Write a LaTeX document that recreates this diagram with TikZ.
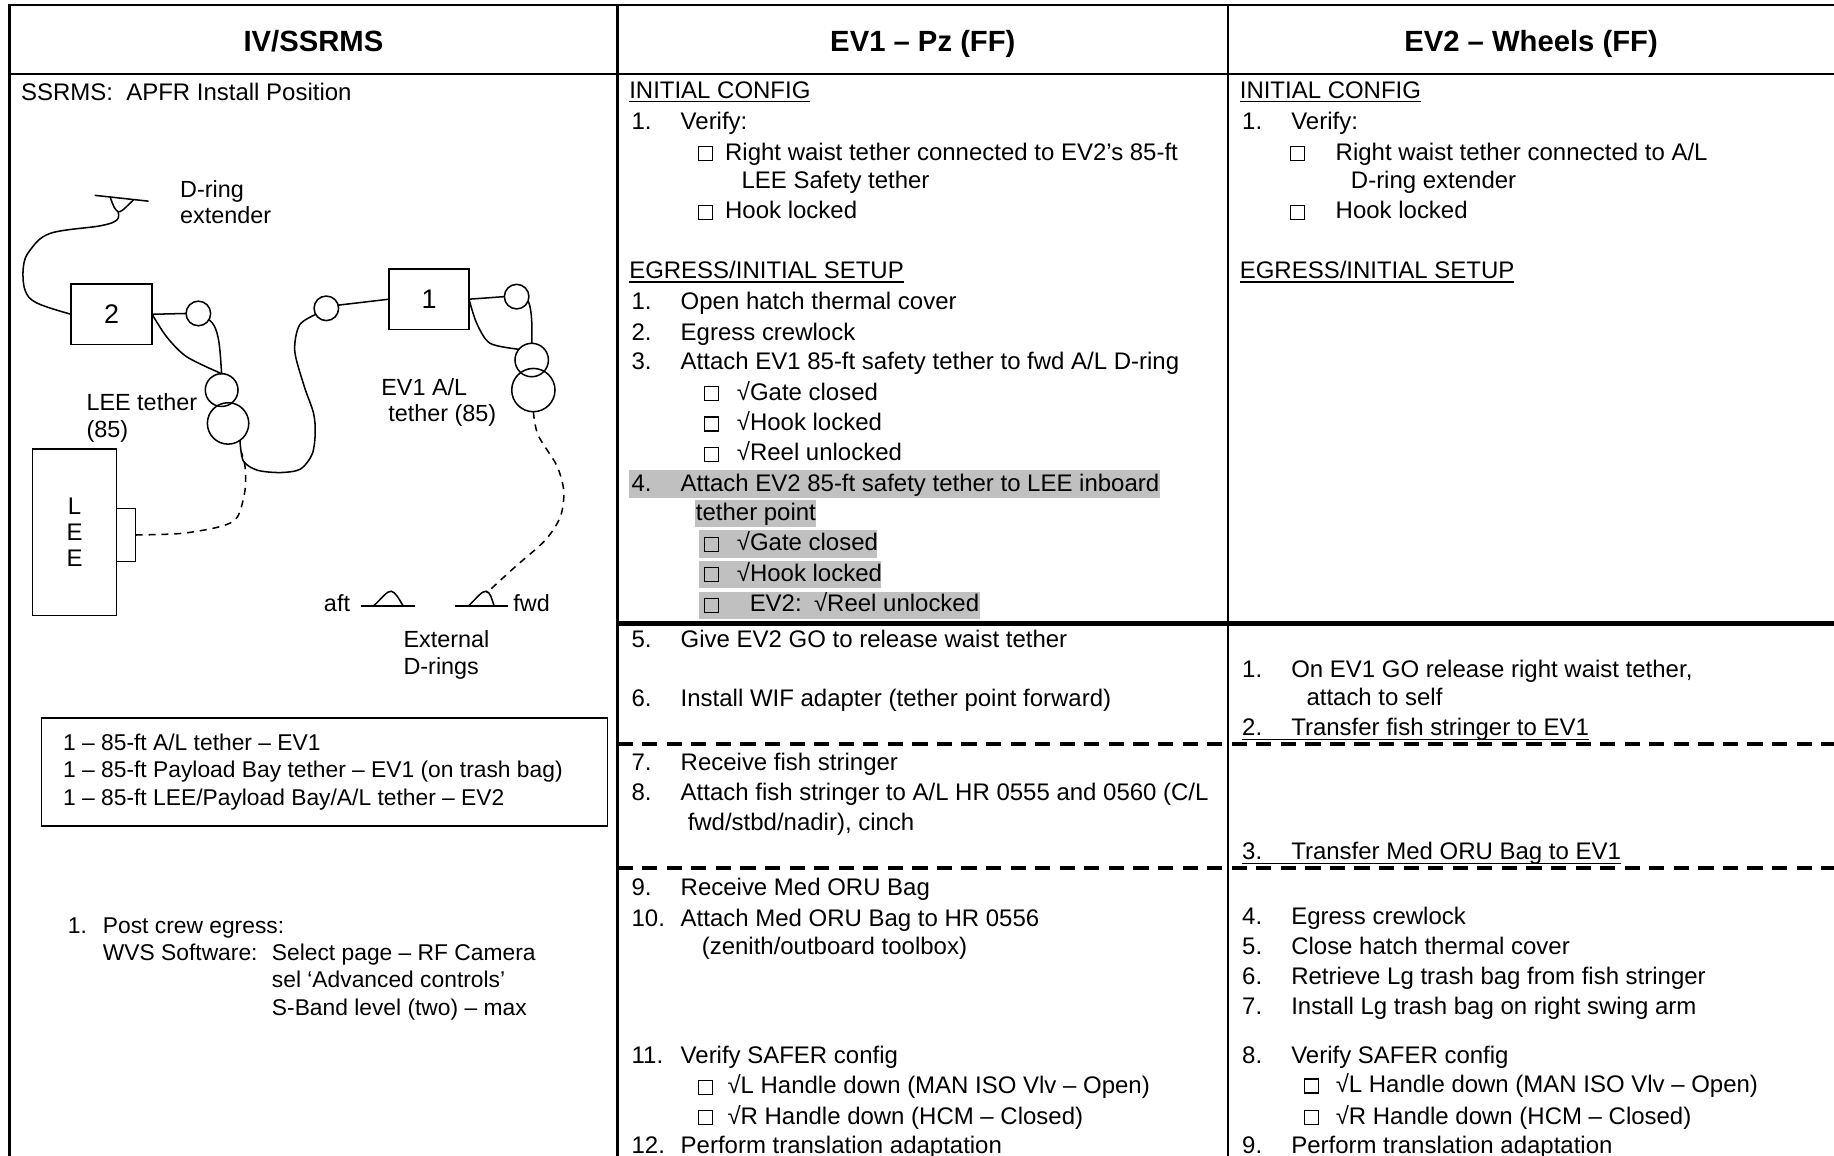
\documentclass[tikz,border=0pt]{standalone}
\usepackage{fontspec}
\setmainfont{Liberation Sans}
\usetikzlibrary{calc}
\definecolor{hl}{RGB}{192,192,192}
\newcommand{\cbx}{{\setlength{\fboxsep}{0pt}\setlength{\fboxrule}{1pt}\framebox{\rule{0pt}{11pt}\hspace{11pt}}}}
\newcommand{\nm}[1]{\makebox[42pt][l]{#1}}
\begin{document}
\begin{tikzpicture}[x=1pt,y=-1pt,
  every node/.style={inner sep=0pt,outer sep=0pt},
  tx/.style={anchor=base west,font=\fontsize{20.5pt}{25.8pt}\selectfont},
  ts/.style={anchor=base west,font=\fontsize{19.5pt}{23.5pt}\selectfont},
  dl/.style={anchor=base west,font=\fontsize{20pt}{24pt}\selectfont},
  hd/.style={anchor=base,font=\fontsize{25pt}{30pt}\selectfont\bfseries},
  tab/.style={line width=2pt},
  thk/.style={line width=4.5pt},
  dsl/.style={line width=4pt,dash pattern=on 13pt off 8pt},
  dg/.style={line width=1.3pt},
  dsh/.style={dash pattern=on 6pt off 5pt},
  ring/.style={circle,draw,line width=1.3pt},
  ulin/.style={line width=1.1pt},
  hlbox/.style={fill=hl,draw=none}]
\useasboundingbox (0,0) rectangle (1568,988);
\fill[white] (0,0) rectangle (1568,988);

% highlights
\fill[hlbox] (538,402) rectangle (992,425.5);
\fill[hlbox] (594,427.5) rectangle (698,450.5);
\fill[hlbox] (598,453.5) rectangle (750,477);
\fill[hlbox] (598,479.5) rectangle (753,503);
\fill[hlbox] (598,506) rectangle (838,529);

% table grid
\draw[tab] (8,4) -- (1568,4);
\draw[tab] (8,63) -- (1568,63);
\draw[tab] (8,3) -- (8,988);
\draw[tab] (528,3) -- (528,988);
\draw[tab] (1050,3) -- (1050,988);
\draw[thk] (528,533) -- (1568,533);
\draw[dsl] (528,636) -- (1568,636);
\draw[dsl] (528,742) -- (1568,742);

% headers
\node[hd] (h1) at (268,44) {IV/SSRMS};
\node[hd] (h2) at (789,44) {EV1 – Pz (FF)};
\node[hd] (h3) at (1309,44) {EV2 – Wheels (FF)};

% ---------- column 1 ----------
\node[tx] (s0) at (18,86) {SSRMS:\ \ APFR Install Position};

% D-ring extender
\draw[dg] (81,167) -- (127,172);
\draw[dg] plot[smooth] coordinates {(94,168) (97.5,177) (101,181) (105,179.5) (114,171)};
\coordinate (dx) at (101,181);
\node[dl] (dl1) at (154,169) {D-ring};
\node[dl] (dl2) at (154,191) {extender};

% box 2 and rings
\node[draw,dg,minimum width=69.3pt,minimum height=51.4pt,font=\fontsize{23pt}{26pt}\selectfont] (box2) at (95.4,268.7) {2};
\node[ring,minimum size=21pt] (c2) at (169.6,268) {};
\node[ring,minimum size=28pt] (lee1) at (189.5,333.5) {};
\node[ring,minimum size=35.4pt] (lee2) at (195,362) {};
\draw[dg] plot[smooth,tension=0.6] coordinates {(dx) (100,188) (86,193) (43,199.5) (25.6,214) (20,228) (21.4,248) (31.4,259) (box2.west)};
\draw[dg] (box2.east) -- (c2.west);
\draw[dg] plot[smooth] coordinates {(box2.east) (142.5,288) (159.6,305) (lee1.north)};
\draw[dg] (c2.-30) .. controls (188,280) and (188,300) .. (lee1.north);
\node[dl] (ll1) at (74,351) {LEE tether};
\node[dl] (ll2) at (74,374) {(85)};

% box 1 and rings
\node[draw,dg,minimum width=68.4pt,minimum height=51.6pt,font=\fontsize{23pt}{26pt}\selectfont] (box1) at (366.8,255.8) {1};
\node[ring,minimum size=21pt] (c1) at (279,263.6) {};
\node[ring,minimum size=21pt] (c3) at (441.7,253.6) {};
\node[ring,minimum size=28.6pt] (r1) at (454.6,307.8) {};
\node[ring,minimum size=37pt] (r2) at (456,333.5) {};
\draw[dg] (c1.15) -- (box1.west);
\draw[dg] (box1.east) -- (c3.west);
\draw[dg] plot[smooth] coordinates {(box1.east) (407.6,276.5) (419,293.5) (r1.140)};
\draw[dg] (c3.-20) .. controls (455,265) and (455,280) .. (r1.north);
\draw[dg] plot[smooth] coordinates {(lee2.-55) (208,394) (220,402) (240,404) (257,401) (267,388) (269.5,370) (268,353) (260,330) (252,300) (256,278) (c1.-150)};
\node[dl] (el1) at (326,338) {EV1 A/L};
\node[dl] (el2) at (332,360) {tether (85)};

% LEE
\node[draw,dg,minimum width=72pt,minimum height=142.6pt,align=center,font=\fontsize{20.5pt}{22.5pt}\selectfont] (lee) at (63.7,455) {L\\E\\E};
\node[draw,dg,minimum width=16.3pt,minimum height=45.6pt] (tab) at (107.85,457.4) {};
\coordinate (lj) at (206.5,387);
\draw[dg,dsh] plot[smooth] coordinates {(tab.east) (155.5,456) (189,450) (203,442) (209.5,419) (209.5,399) (lj)};

% external D-rings
\draw[dg] (309,518) -- (355,518);
\draw[dg] (319.4,518) .. controls (327,511) and (331,505) .. (334.5,505.5) .. controls (338,506) and (341,512) .. (344.7,518);
\draw[dg] (388.6,518) -- (434.3,518);
\draw[dg] (400.5,518) .. controls (408,511) and (412,505) .. (415.7,505.5) .. controls (419,506) and (420.5,512) .. (422.4,518);
\coordinate (fwdpk) at (416,507);
\draw[dg,dsh] plot[smooth] coordinates {(r2.south) (460,372) (476,398) (482,420) (479,442) (466,462) (440,485) (fwdpk)};
\node[dl] (aft) at (277,523) {aft};
\node[dl] (fwd) at (439,523) {fwd};
\node[dl] (ex1) at (345,554) {External};
\node[dl] (ex2) at (345,577) {D-rings};

% legend
\node[draw,line width=1.5pt,minimum width=483.9pt,minimum height=92pt] (leg) at (277.45,660) {};
\node[ts] (lg1) at (54,642) {1 – 85-ft A/L tether – EV1};
\node[ts] (lg2) at (54,665) {1 – 85-ft Payload Bay tether – EV1 (on trash bag)};
\node[ts] (lg3) at (54,689) {1 – 85-ft LEE/Payload Bay/A/L tether – EV2};

% post crew egress
\node[ts] (p1) at (58,798) {\makebox[30pt][l]{1.}Post crew egress:};
\node[ts] (p2) at (88,821.5) {\makebox[144.5pt][l]{WVS Software:}Select page – RF Camera};
\node[ts] (p3) at (232.5,844.5) {sel ‘Advanced controls’};
\node[ts] (p4) at (232.5,868) {S-Band level (two) – max};

% ---------- column 2 (EV1) ----------
\node[tx] (e0) at (538,84) {INITIAL CONFIG};
\draw[ulin] ([yshift=-3pt]e0.base west) -- ([yshift=-3pt]e0.base east);
\node[tx] (e1) at (540,111) {\nm{1.}Verify:};
\node[tx] (e2) at (597,137) {\makebox[23pt][l]{\cbx}Right waist tether connected to EV2’s 85-ft};
\node[tx] (e3) at (634,161) {LEE Safety tether};
\node[tx] (e4) at (597,187) {\makebox[23pt][l]{\cbx}Hook locked};
\node[tx] (e5) at (538,238) {EGRESS/INITIAL SETUP};
\draw[ulin] ([yshift=-3pt]e5.base west) -- ([yshift=-3pt]e5.base east);
\node[tx] (e6) at (540,265) {\nm{1.}Open hatch thermal cover};
\node[tx] (e7) at (540,291) {\nm{2.}Egress crewlock};
\node[tx] (e8) at (540,316) {\nm{3.}Attach EV1 85-ft safety tether to fwd A/L D-ring};
\node[tx] (e9) at (602,342) {\makebox[28pt][l]{\cbx}√Gate closed};
\node[tx] (e10) at (602,368) {\makebox[28pt][l]{\cbx}√Hook locked};
\node[tx] (e11) at (602,394) {\makebox[28pt][l]{\cbx}√Reel unlocked};
\node[tx] (e12) at (540,420) {\nm{4.}Attach EV2 85-ft safety tether to LEE inboard};
\node[tx] (e13) at (595,445) {tether point};
\node[tx] (e14) at (602,471) {\makebox[28pt][l]{\cbx}√Gate closed};
\node[tx] (e15) at (602,497) {\makebox[28pt][l]{\cbx}√Hook locked};
\node[tx] (e16) at (602,523) {\makebox[39pt][l]{\cbx}\makebox[55pt][l]{EV2:}√Reel unlocked};
\node[tx] (e17) at (540,554) {\nm{5.}Give EV2 GO to release waist tether};
\node[tx] (e18) at (540,604) {\nm{6.}Install WIF adapter (tether point forward)};
\node[tx] (e19) at (540,659) {\nm{7.}Receive fish stringer};
\node[tx] (e20) at (540,684) {\nm{8.}Attach fish stringer to A/L HR 0555 and 0560 (C/L};
\node[tx] (e21) at (588,710) {fwd/stbd/nadir), cinch};
\node[tx] (e22) at (540,766) {\nm{9.}Receive Med ORU Bag};
\node[tx] (e23) at (540,792) {\nm{10.}Attach Med ORU Bag to HR 0556};
\node[tx] (e24) at (600,816) {(zenith/outboard toolbox)};
\node[tx] (e25) at (540,909) {\nm{11.}Verify SAFER config};
\node[tx] (e26) at (597,935) {\makebox[25pt][l]{\cbx}√L Handle down (MAN ISO Vlv – Open)};
\node[tx] (e27) at (597,961) {\makebox[25pt][l]{\cbx}√R Handle down (HCM – Closed)};
\node[tx] (e28) at (540,986) {\nm{12.}Perform translation adaptation};

% ---------- column 3 (EV2) ----------
\node[tx] (w0) at (1060,84) {INITIAL CONFIG};
\draw[ulin] ([yshift=-3pt]w0.base west) -- ([yshift=-3pt]w0.base east);
\node[tx] (w1) at (1062,111) {\nm{1.}Verify:};
\node[tx] (w2) at (1103,137) {\makebox[39pt][l]{\cbx}Right waist tether connected to A/L};
\node[tx] (w3) at (1155,161) {D-ring extender};
\node[tx] (w4) at (1103,187) {\makebox[39pt][l]{\cbx}Hook locked};
\node[tx] (w5) at (1060,238) {EGRESS/INITIAL SETUP};
\draw[ulin] ([yshift=-3pt]w5.base west) -- ([yshift=-3pt]w5.base east);
\node[tx] (w6) at (1062,579) {\nm{1.}On EV1 GO release right waist tether,};
\node[tx] (w7) at (1117,603) {attach to self};
\node[tx] (w8) at (1062,629) {\nm{2.}Transfer fish stringer to EV1};
\draw[ulin] ([yshift=-3pt]w8.base west) -- ([yshift=-3pt]w8.base east);
\node[tx] (w9) at (1062,735) {\nm{3.}Transfer Med ORU Bag to EV1};
\draw[ulin] ([yshift=-3pt]w9.base west) -- ([yshift=-3pt]w9.base east);
\node[tx] (w10) at (1062,790) {\nm{4.}Egress crewlock};
\node[tx] (w11) at (1062,816) {\nm{5.}Close hatch thermal cover};
\node[tx] (w12) at (1062,842) {\nm{6.}Retrieve Lg trash bag from fish stringer};
\node[tx] (w13) at (1062,867) {\nm{7.}Install Lg trash bag on right swing arm};
\node[tx] (w14) at (1062,909) {\nm{8.}Verify SAFER config};
\node[tx] (w15) at (1115,934) {\makebox[27pt][l]{\cbx}√L Handle down (MAN ISO Vlv – Open)};
\node[tx] (w16) at (1115,961) {\makebox[27pt][l]{\cbx}√R Handle down (HCM – Closed)};
\node[tx] (w17) at (1062,986) {\nm{9.}Perform translation adaptation};
\end{tikzpicture}
\end{document}
